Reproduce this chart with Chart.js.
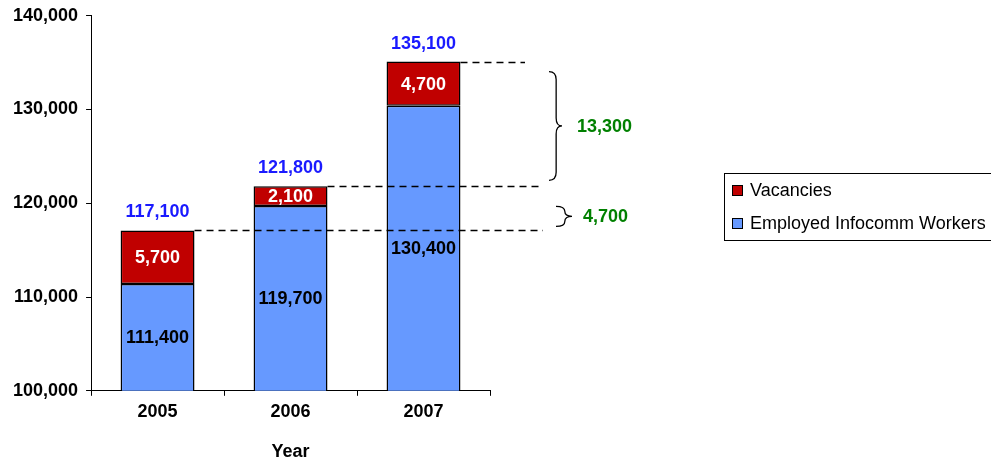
<!DOCTYPE html>
<html>
<head>
<meta charset="utf-8">
<script src="https://cdn.jsdelivr.net/npm/chart.js@4.4.1/dist/chart.umd.min.js"></script>
<style>
  body { margin: 0; background: #fff; }
  #wrap { position: relative; width: 991px; height: 466px; overflow: hidden; }
  #legend {
    position: absolute; left: 724px; top: 173px; width: 290px; height: 66px;
    border: 1px solid #000; font: 18px "Liberation Sans", Arial, sans-serif; color: #000;
  }
  .item { position: absolute; left: 7px; height: 20px; line-height: 20px; }
  .sw { display: inline-block; width: 9px; height: 9px; border: 1px solid #000; margin-right: 7px; vertical-align: 0px; }
</style>
</head>
<body>
<div id="wrap">
  <canvas id="chart" width="991" height="466"></canvas>
  <div id="legend">
    <div class="item" style="top:6px"><span class="sw" style="background:#C00000"></span>Vacancies</div>
    <div class="item" style="top:39px"><span class="sw" style="background:#6699FF"></span>Employed Infocomm Workers</div>
  </div>
</div>
<script>
// Data
const years = ['2005', '2006', '2007'];
const employed = [111400, 119700, 130400];
const vacancies = [5700, 2100, 4700];
const yTicks = [100000, 110000, 120000, 130000, 140000];

const fontFam = '"Liberation Sans", Arial, sans-serif';
const fmt = v => v.toLocaleString('en-US');
const totals = employed.map((e, i) => e + vacancies[i]);

// labels inside/above bars + growth annotations
const annot = {
  id: 'annot',
  afterDatasetsDraw(chart) {
    const ctx = chart.ctx;
    const y = chart.scales.y;
    const area = chart.chartArea;
    const empBars = chart.getDatasetMeta(0).data;
    const vacBars = chart.getDatasetMeta(1).data;

    ctx.save();
    // dashed lines from bar tops
    const half = (vacBars[0].width) / 2;
    ctx.strokeStyle = '#000';
    ctx.lineWidth = 1.5;
    ctx.setLineDash([7, 5]);
    const ends = [543, 543, 525];
    vacBars.forEach((v, i) => {
      const yy = Math.round(y.getPixelForValue(totals[i])) + 0.5;
      ctx.beginPath();
      ctx.moveTo(v.x + half, yy);
      ctx.lineTo(ends[i], yy);
      ctx.stroke();
    });
    ctx.setLineDash([]);

    ctx.font = 'bold 18px ' + fontFam;
    ctx.textAlign = 'center';
    ctx.textBaseline = 'middle';
    empBars.forEach((b, i) => {
      const top = b.y;
      const bottom = Math.min(b.base, area.bottom);
      ctx.fillStyle = '#000';
      ctx.fillText(fmt(employed[i]), b.x, (top + bottom) / 2 + 1);
      const v = vacBars[i];
      ctx.fillStyle = '#fff';
      ctx.fillText(fmt(vacancies[i]), v.x, (v.y + v.base) / 2 + 1);
      ctx.fillStyle = '#1A1AFF';
      ctx.fillText(fmt(totals[i]), v.x, v.y - 18);
    });

    // braces
    function brace(x0, x1, ya, yb) {
      const ym = (ya + yb) / 2;
      const xm = x0 + (x1 - x0) * 0.55;
      const r1 = Math.min(8, (ym - ya) / 2);
      const r2 = Math.min(8, (yb - ym) / 2);
      ctx.beginPath();
      ctx.moveTo(x0, ya);
      ctx.quadraticCurveTo(xm, ya, xm, ya + r1);
      ctx.lineTo(xm, ym - r1);
      ctx.quadraticCurveTo(xm, ym, x1, ym);
      ctx.quadraticCurveTo(xm, ym, xm, ym + r2);
      ctx.lineTo(xm, yb - r2);
      ctx.quadraticCurveTo(xm, yb, x0, yb);
      ctx.stroke();
    }
    ctx.lineWidth = 1.3;
    const yTop = y.getPixelForValue(totals[2]);
    const yMid = y.getPixelForValue(totals[1]);
    const yLow = y.getPixelForValue(totals[0]);
    brace(549, 562, yTop + 10, yMid - 6);
    brace(556, 572, yMid + 20, yLow - 4);

    ctx.fillStyle = '#008000';
    ctx.textAlign = 'left';
    ctx.fillText(fmt(totals[2] - totals[1]), 577, (yTop + 10 + yMid - 6) / 2 + 1);
    ctx.fillText(fmt(totals[1] - totals[0]), 583, (yMid + 20 + yLow - 4) / 2 + 1);
    ctx.restore();
  }
};

new Chart(document.getElementById('chart'), {
  type: 'bar',
  data: {
    labels: years,
    datasets: [
      { label: 'Employed Infocomm Workers', data: employed, backgroundColor: '#6699FF',
        borderColor: '#000', borderWidth: 1.5, borderSkipped: false },
      { label: 'Vacancies', data: vacancies, backgroundColor: '#C00000',
        borderColor: '#000', borderWidth: 1.5, borderSkipped: false }
    ]
  },
  options: {
    responsive: false,
    animation: false,
    categoryPercentage: 1,
    barPercentage: 0.556,
    layout: { padding: { left: 5, right: 501, top: 0, bottom: 3 } },
    plugins: { legend: { display: false }, tooltip: { enabled: false } },
    scales: {
      x: {
        stacked: true,
        border: { color: '#000', width: 1 },
        grid: { offset: true, drawOnChartArea: false, color: '#000', tickLength: 5 },
        ticks: { color: '#000', font: { family: fontFam, size: 18, weight: 'bold' }, padding: 5 },
        title: { display: true, text: 'Year', color: '#000', padding: { top: 14, bottom: 0 },
                 font: { family: fontFam, size: 18, weight: 'bold' } }
      },
      y: {
        stacked: true,
        min: yTicks[0],
        max: yTicks[yTicks.length - 1],
        afterBuildTicks: s => { s.ticks = yTicks.map(v => ({ value: v })); },
        border: { color: '#000', width: 1 },
        grid: { drawOnChartArea: false, color: '#000', tickLength: 5 },
        ticks: { color: '#000', padding: 8, font: { family: fontFam, size: 18, weight: 'bold', lineHeight: 0.85 },
                 callback: v => fmt(v) }
      }
    }
  },
  plugins: [annot]
});
</script>
</body>
</html>
